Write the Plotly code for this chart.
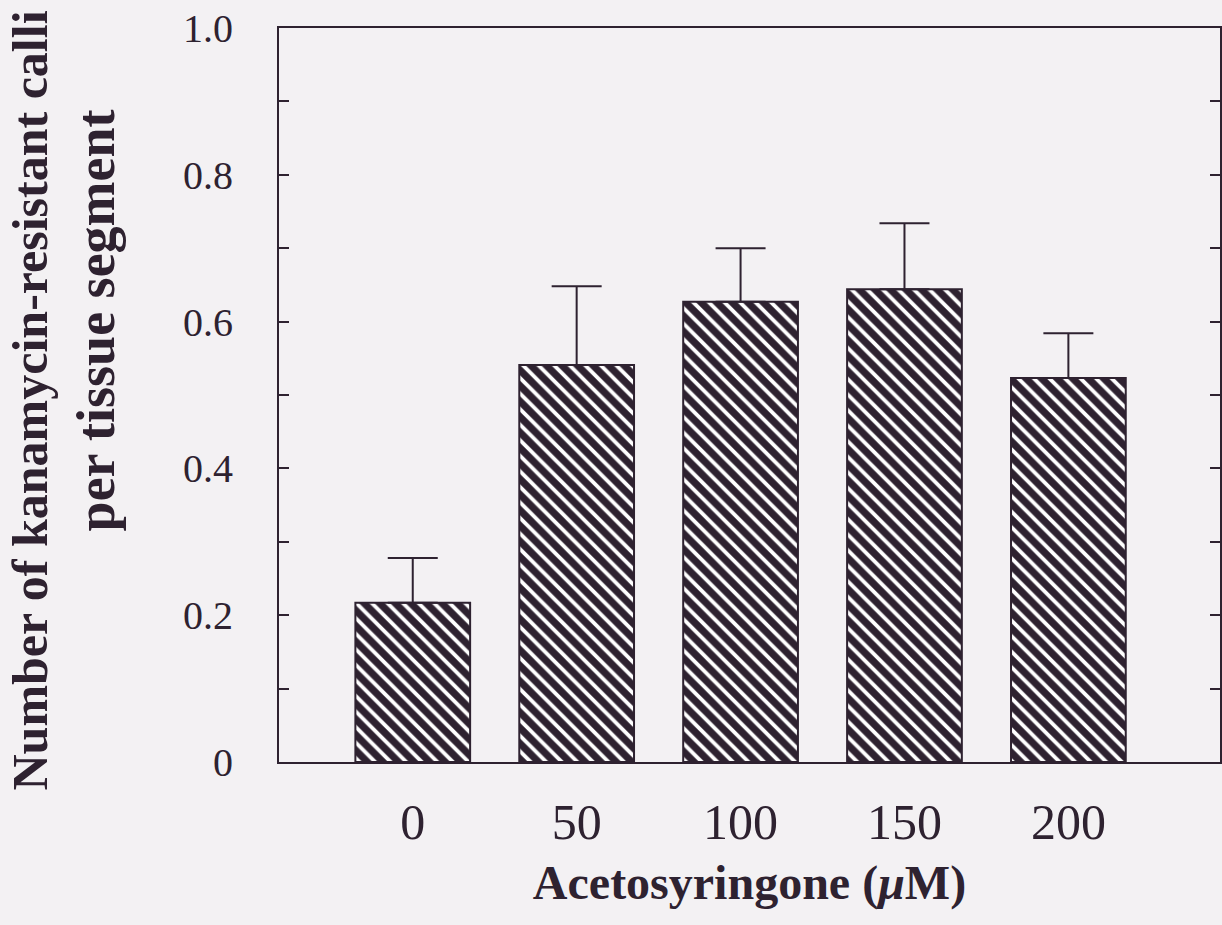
import plotly.graph_objects as go

# ---- data ----
categories = ["0", "50", "100", "150", "200"]
calli_per_segment = [0.217, 0.541, 0.627, 0.644, 0.523]
error_upper = [0.061, 0.107, 0.073, 0.090, 0.061]
y_tick_values = [0, 0.1, 0.2, 0.3, 0.4, 0.5, 0.6, 0.7, 0.8, 0.9, 1.0]
y_tick_labels = ["0", "", "0.2", "", "0.4", "", "0.6", "", "0.8", "", "1.0"]
x_title = "Acetosyringone (<i>\u03bc</i>M)"
y_title_line1 = "Number of kanamycin-resistant calli"
y_title_line2 = "per tissue segment"

INK = "#2e2230"
PAPER = "#f3f1f3"
FONT = "Liberation Serif"

W, H = 1222, 925
ML, MR, MT, MB = 279, 0, 28, 163
PW = W - ML - MR
PH = H - MT - MB

fig = go.Figure()
fig.add_trace(go.Bar(
    x=categories,
    y=calli_per_segment,
    width=0.7,
    marker=dict(
        color=PAPER,
        line=dict(color=INK, width=2),
        pattern=dict(shape="\\", bgcolor=INK, fgcolor="#ffffff",
                     size=11, solidity=0.35, fillmode="replace"),
    ),
    error_y=dict(type="data", symmetric=False, array=error_upper,
                 arrayminus=[0] * len(error_upper),
                 color=INK, thickness=2, width=25),
    showlegend=False,
))

fig.update_layout(
    width=W, height=H,
    margin=dict(l=ML, r=MR, t=MT, b=MB, pad=0),
    paper_bgcolor=PAPER,
    plot_bgcolor=PAPER,
    font=dict(family=FONT, color=INK),
    xaxis=dict(
        type="category",
        range=[-0.816, 4.925],
        showline=True, linecolor=INK, linewidth=2, mirror=True,
        ticks="", showgrid=False, zeroline=False,
        tickfont=dict(family=FONT, size=50, color=INK),
        ticklabelstandoff=15,
        title=dict(text="<b>" + x_title + "</b>",
                   font=dict(family=FONT, size=48, color=INK),
                   standoff=16),
    ),
    yaxis=dict(
        range=[0, 1.0],
        tickmode="array", tickvals=y_tick_values, ticktext=y_tick_labels,
        ticks="inside", ticklen=10, tickwidth=2, tickcolor=INK,
        showline=True, linecolor=INK, linewidth=2, mirror="ticks",
        showgrid=False, zeroline=False,
        tickfont=dict(family=FONT, size=40, color=INK),
        ticklabelstandoff=36,
    ),
)

# two-line y title as rotated annotations (pixel centres, font sizes)
for txt, px, py, fs in [(y_title_line1, 29, 401, 50),
                        (y_title_line2, 96, 320, 54)]:
    fig.add_annotation(
        text="<b>" + txt + "</b>", textangle=-90,
        xref="paper", yref="paper",
        x=(px - ML) / PW, y=(H - MB - py) / PH,
        xanchor="center", yanchor="middle",
        showarrow=False,
        font=dict(family=FONT, size=fs, color=INK),
    )

fig.write_html(
    "out.html",
    config={"displayModeBar": False},
    post_script="document.body.style.margin='0';"
                "document.body.style.background='%s';" % PAPER,
)
